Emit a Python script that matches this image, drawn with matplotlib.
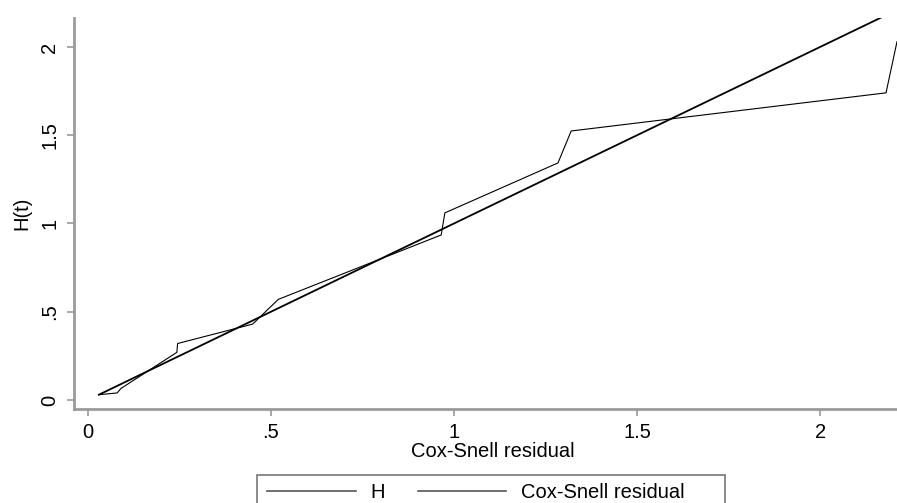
import matplotlib
matplotlib.use('Agg')
import matplotlib.pyplot as plt
from matplotlib.patches import Rectangle

plt.rcParams['font.family'] = ['Liberation Sans', 'DejaVu Sans']

# Nelson-Aalen cumulative hazard of the Cox-Snell residuals
resid = [0.03, 0.08, 0.09, 0.243, 0.245, 0.45, 0.52, 0.965, 0.975, 1.284, 1.32, 2.18, 2.21]
H = [0.03, 0.04, 0.065, 0.27, 0.32, 0.43, 0.57, 0.935, 1.06, 1.343, 1.524, 1.74, 2.03]
# reference line: residual against itself
cs = [0.03, 2.18]

xticks = [0, 0.5, 1, 1.5, 2]
xticklabels = ['0', '.5', '1', '1.5', '2']
yticks = [0, 0.5, 1, 1.5, 2]
yticklabels = ['0', '.5', '1', '1.5', '2']

FS = 14.5

fig = plt.figure(figsize=(8.97, 5.03), dpi=100)
ax = fig.add_axes([74/897, 1-409/503, 1-74/897, (409-18)/503])

l1, = ax.plot(resid, H, color='black', lw=0.8)
l2, = ax.plot(cs, cs, color='black', lw=1.3)

ax.set_xlim(-0.038, 2.21)
ax.set_ylim(-0.051, 2.164)

for s in ['top', 'right']:
    ax.spines[s].set_visible(False)
for s in ['left', 'bottom']:
    ax.spines[s].set_color('#9a9a9a')
    ax.spines[s].set_linewidth(2)

ax.set_xticks(xticks)
ax.set_xticklabels(xticklabels)
ax.set_yticks(yticks)
ax.set_yticklabels(yticklabels, rotation=90, va='center')
ax.tick_params(axis='both', color='#9a9a9a', length=5, width=1.2, labelsize=FS)
ax.tick_params(axis='x', pad=5)
ax.tick_params(axis='y', pad=5.5)

ax.set_xlabel('Cox-Snell residual', fontsize=FS)
ax.xaxis.set_label_coords((493-74)/823, -(442-409)/391, transform=ax.transAxes)
ax.xaxis.label.set_va('top')
ax.set_ylabel('H(t)', fontsize=FS)
ax.yaxis.set_label_coords(-(74-31)/823, 0.5)
ax.yaxis.label.set_va('bottom')

# legend below, box runs off the bottom of the figure like the original
leg = fig.legend([l1, l2], ['H', 'Cox-Snell residual'], ncol=2, loc='upper left',
                 bbox_to_anchor=(257/897, 1-473/503), frameon=False, fontsize=FS,
                 borderpad=0, handlelength=4.4, columnspacing=1.6, handletextpad=0.75)
for h in leg.legend_handles:
    h.set_color('#555555')
    h.set_linewidth(1.2)
fig.patches.append(Rectangle((257/897, 1-520/503), (725-257)/897, 45/503,
                             transform=fig.transFigure, fill=False,
                             edgecolor='#777777', lw=1.2))

fig.savefig('out.png', dpi=100)
